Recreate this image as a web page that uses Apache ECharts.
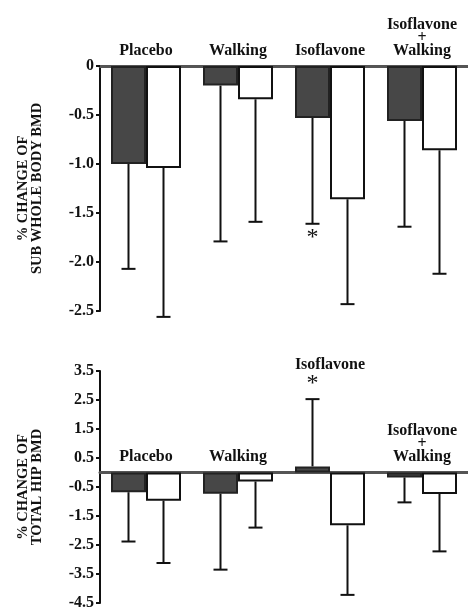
<!DOCTYPE html>
<html>
<head>
<meta charset="utf-8">
<script src="https://cdn.jsdelivr.net/npm/echarts@6/dist/echarts.min.js"></script>
<style>
  html, body { margin: 0; padding: 0; background: #fff; }
  #chart { width: 468px; height: 611px; }
</style>
</head>
<body>
<div id="chart"></div>
<script>
// Groups (same in both panels)
const groups = ['Placebo', 'Walking', 'Isoflavone', 'Isoflavone\n+\nWalking'];

// Panel 1: % change of sub whole body BMD
const bodyDark = [-1.00, -0.20, -0.53, -0.56];
const bodyDarkSD = [1.07, 1.59, 1.08, 1.08];
const bodyWhite = [-1.04, -0.34, -1.36, -0.86];
const bodyWhiteSD = [1.52, 1.25, 1.07, 1.26];
const bodySig = [false, false, true, false];
const bodyTicks = [0, -0.5, -1.0, -1.5, -2.0, -2.5];

// Panel 2: % change of total hip BMD
const hipDark = [-0.68, -0.73, 0.21, -0.17];
const hipDarkSD = [1.70, 2.62, 2.32, 0.86];
const hipWhite = [-0.97, -0.31, -1.82, -0.74];
const hipWhiteSD = [2.15, 1.59, 2.40, 1.98];
const hipSig = [false, false, true, false];
const hipTicks = [3.5, 2.5, 1.5, 0.5, -0.5, -1.5, -2.5, -3.5, -4.5];

const BAR_W = 35;
const SERIF = '"Liberation Serif", "Times New Roman", serif';
const INK = '#111';

// error bars (one-sided, away from zero), asterisk and group label
function overlay(dark, darkSD, white, whiteSD, sig) {
    return function (params, api) {
        const i = params.dataIndex;
        const children = [];
        const ends = [];
        [[dark, darkSD, -1], [white, whiteSD, 1]].forEach(function (s) {
            const v = s[0][i];
            const e = v + (v >= 0 ? 1 : -1) * s[1][i];
            const p0 = api.coord([i, v]);
            const p1 = api.coord([i, e]);
            const x = p0[0] + s[2] * BAR_W / 2;
            children.push({ type: 'line', shape: { x1: x, y1: p0[1], x2: x, y2: p1[1] },
                style: { stroke: INK, lineWidth: 2 } });
            children.push({ type: 'line', shape: { x1: x - 7, y1: p1[1], x2: x + 7, y2: p1[1] },
                style: { stroke: INK, lineWidth: 2 } });
            ends.push([x, p1[1]]);
        });
        const c = api.coord([i, 0]);
        let labelY = c[1] - 9;
        if (sig[i]) {
            const up = dark[i] > 0;
            const ay = up ? ends[0][1] - 15 : ends[0][1] + 14;
            children.push({ type: 'text', x: ends[0][0], y: ay,
                style: { text: '*', fill: INK, font: '24px ' + SERIF, align: 'center', verticalAlign: 'middle' } });
            if (up) labelY = ay - 13;
        }
        children.push({ type: 'text', x: c[0], y: labelY,
            style: { text: groups[i], fill: INK, font: 'bold 16px ' + SERIF, align: 'center',
                verticalAlign: 'bottom', lineHeight: 13 } });
        return { type: 'group', children: children };
    };
}

function valueAxis(grid, min, max, ticks, name) {
    return {
        type: 'value', gridIndex: grid, min: min, max: max,
        name: name, nameLocation: 'middle', nameRotate: 90, nameGap: 56,
        nameTextStyle: { fontFamily: SERIF, fontWeight: 'bold', fontSize: 14.5, color: INK, lineHeight: 14 },
        axisLine: { show: true, lineStyle: { color: INK, width: 2 } },
        axisTick: { show: true, length: 4, lineStyle: { color: INK, width: 2 }, customValues: ticks },
        axisLabel: { fontFamily: SERIF, fontWeight: 'bold', fontSize: 16, color: INK, margin: 6,
            customValues: ticks,
            formatter: function (v) { return v === 0 ? '0' : v.toFixed(1); } },
        splitLine: { show: false }
    };
}

function categoryAxis(grid) {
    return {
        type: 'category', gridIndex: grid, data: groups,
        axisLine: { show: true, onZero: true, lineStyle: { color: '#555', width: 3 } },
        axisTick: { show: false }, axisLabel: { show: false }
    };
}

function bars(grid, data, color, border) {
    return {
        type: 'bar', xAxisIndex: grid, yAxisIndex: grid, data: data,
        barWidth: BAR_W, barGap: '0%',
        itemStyle: { color: color, borderColor: border, borderWidth: 2 }
    };
}

const chart = echarts.init(document.getElementById('chart'));
chart.setOption({
    animation: false,
    backgroundColor: '#fff',
    grid: [
        { left: 100, right: 0, top: 66, height: 245 },
        { left: 100, right: 0, top: 371, height: 234 }
    ],
    xAxis: [categoryAxis(0), categoryAxis(1)],
    yAxis: [
        valueAxis(0, -2.5, 0, bodyTicks, '% CHANGE OF\nSUB WHOLE BODY BMD'),
        valueAxis(1, -4.5, 3.5, hipTicks, '% CHANGE OF\nTOTAL HIP BMD')
    ],
    series: [
        bars(0, bodyDark, '#474747', '#222'),
        bars(0, bodyWhite, '#fff', INK),
        bars(1, hipDark, '#474747', '#222'),
        bars(1, hipWhite, '#fff', INK),
        { type: 'custom', xAxisIndex: 0, yAxisIndex: 0, clip: false, z: 5,
          data: groups.map(function (g, i) { return [i, 0]; }),
          renderItem: overlay(bodyDark, bodyDarkSD, bodyWhite, bodyWhiteSD, bodySig) },
        { type: 'custom', xAxisIndex: 1, yAxisIndex: 1, clip: false, z: 5,
          data: groups.map(function (g, i) { return [i, 0]; }),
          renderItem: overlay(hipDark, hipDarkSD, hipWhite, hipWhiteSD, hipSig) }
    ]
});
</script>
</body>
</html>
